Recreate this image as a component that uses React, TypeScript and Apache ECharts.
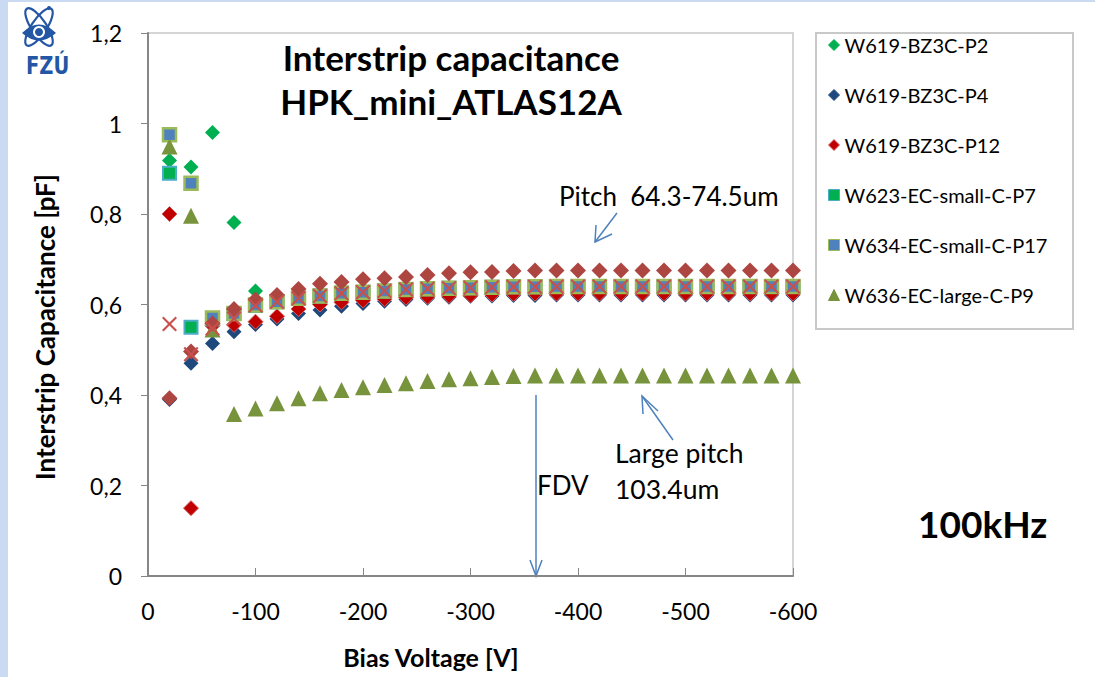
import React, { useEffect, useRef } from 'react';
import * as echarts from 'echarts';

// Bias voltage (V)
const voltages = [
  -20, -40, -60, -80, -100, -120, -140, -160, -180, -200,
  -220, -240, -260, -280, -300, -320, -340, -360, -380, -400,
  -420, -440, -460, -480, -500, -520, -540, -560, -580, -600,
];

// Interstrip capacitance (pF)
const p2 = [
  0.918, 0.904, 0.98, 0.781, 0.63, 0.606, 0.614, 0.619, 0.625, 0.627,
  0.63, 0.633, 0.635, 0.636, 0.637, 0.638, 0.639, 0.639, 0.64, 0.64,
  0.64, 0.64, 0.64, 0.64, 0.64, 0.64, 0.64, 0.64, 0.64, 0.64,
];
const p4 = [
  0.39, 0.47, 0.514, 0.54, 0.556, 0.568, 0.58, 0.588, 0.596, 0.602,
  0.607, 0.611, 0.614, 0.616, 0.618, 0.619, 0.62, 0.62, 0.621, 0.621,
  0.621, 0.621, 0.621, 0.621, 0.621, 0.621, 0.621, 0.621, 0.621, 0.621,
];
const p12 = [
  0.8, 0.15, 0.553, 0.555, 0.562, 0.574, 0.59, 0.6, 0.605, 0.609,
  0.612, 0.615, 0.617, 0.619, 0.62, 0.622, 0.623, 0.624, 0.624, 0.624,
  0.624, 0.624, 0.624, 0.624, 0.624, 0.624, 0.624, 0.624, 0.624, 0.624,
];
const p7 = [
  0.89, 0.55, 0.568, 0.58, 0.598, 0.606, 0.614, 0.619, 0.625, 0.627,
  0.63, 0.633, 0.635, 0.636, 0.637, 0.638, 0.639, 0.639, 0.64, 0.64,
  0.64, 0.64, 0.64, 0.64, 0.64, 0.64, 0.64, 0.64, 0.64, 0.64,
];
const p17 = [
  0.975, 0.868, 0.57, 0.58, 0.599, 0.606, 0.614, 0.619, 0.625, 0.627,
  0.63, 0.633, 0.635, 0.636, 0.637, 0.638, 0.639, 0.639, 0.64, 0.64,
  0.64, 0.64, 0.64, 0.64, 0.64, 0.64, 0.64, 0.64, 0.64, 0.64,
];
const p9 = [
  0.949, 0.796, 0.545, 0.358, 0.37, 0.382, 0.393, 0.404, 0.411, 0.417,
  0.422, 0.426, 0.431, 0.435, 0.437, 0.44, 0.442, 0.443, 0.443, 0.443,
  0.443, 0.443, 0.443, 0.443, 0.443, 0.443, 0.443, 0.443, 0.443, 0.443,
];
// two further series that are plotted but not listed in the legend
const extraDiamond = [
  0.393, 0.496, 0.558, 0.59, 0.611, 0.621, 0.634, 0.646, 0.65, 0.656,
  0.658, 0.661, 0.665, 0.669, 0.671, 0.672, 0.674, 0.675, 0.675, 0.675,
  0.675, 0.675, 0.675, 0.675, 0.675, 0.675, 0.675, 0.675, 0.675, 0.675,
];
const extraCross = [
  0.557, 0.49, 0.547, 0.569, 0.598, 0.606, 0.614, 0.619, 0.625, 0.627,
  0.63, 0.633, 0.635, 0.636, 0.637, 0.638, 0.639, 0.639, 0.64, 0.64,
  0.64, 0.64, 0.64, 0.64, 0.64, 0.64, 0.64, 0.64, 0.64, 0.64,
];

const legendNames = [
  'W619-BZ3C-P2',
  'W619-BZ3C-P4',
  'W619-BZ3C-P12',
  'W623-EC-small-C-P7',
  'W634-EC-small-C-P17',
  'W636-EC-large-C-P9',
];

const yTicks = ['0', '0,2', '0,4', '0,6', '0,8', '1', '1,2'];

const FONT = 'Lato, "Open Sans", sans-serif';
const ARROW = '#4F81BD';
const LOGO = '#2356A4';

const pairs = (ys: number[]) => voltages.map((v, i) => [v, ys[i]]);

const crossPath =
  'path://M0,1.5L1.5,0L7.5,6L13.5,0L15,1.5L9,7.5L15,13.5L13.5,15L7.5,9L1.5,15L0,13.5L6,7.5Z';

export default function App() {
  const ref = useRef<HTMLDivElement>(null);

  useEffect(() => {
    document.body.style.margin = '0';
    const eyeD = 'M22,33 Q39,16 56,33 Q39,48 22,33 Z';
    try {
      echarts.graphic.registerShape('fzuEye', echarts.graphic.extendPath(eyeD, {}) as any);
    } catch (e) {
      /* already registered */
    }
    const chart = echarts.init(ref.current!, null, { renderer: 'svg' });

    const mk = (
      name: string,
      data: number[],
      symbol: string,
      size: number,
      color: string,
      border?: string,
      bw = 0,
    ) => ({
      name,
      type: 'scatter',
      data: pairs(data),
      symbol,
      symbolSize: size,
      itemStyle: { color, borderColor: border || color, borderWidth: bw, opacity: 1 },
      emphasis: { disabled: true },
    });

    const txt = (text: string, x: number, y: number, size: number, bold = false, align = 'left') => ({
      type: 'text',
      x,
      y,
      silent: true,
      style: {
        text,
        fontFamily: FONT,
        fontSize: size,
        fontWeight: bold ? 'bold' : 'normal',
        fill: '#000',
        align,
        verticalAlign: 'middle',
      },
    });

    const option: any = {
      animation: false,
      backgroundColor: '#ffffff',
      textStyle: { fontFamily: FONT },
      title: {
        text: 'Interstrip capacitance\nHPK_mini_ATLAS12A',
        left: 446,
        top: 30,
        textAlign: 'center',
        textStyle: {
          fontFamily: FONT,
          fontSize: 35,
          fontWeight: 'bold',
          color: '#000',
          lineHeight: 44,
        },
      },
      grid: {
        left: 148,
        right: 302,
        top: 33,
        bottom: 101,
        show: true,
        borderColor: '#C8C8C8',
        borderWidth: 1.5,
        backgroundColor: 'transparent',
      },
      legend: {
        data: legendNames.map((n) => ({ name: n, itemStyle: { borderWidth: 1 } })),
        orient: 'vertical',
        left: 828,
        top: 33,
        itemWidth: 11,
        itemHeight: 11,
        itemGap: 26,
        textStyle: { fontFamily: FONT, fontSize: 20, color: '#000', lineHeight: 24 },
        padding: 0,
      },
      xAxis: {
        type: 'value',
        inverse: true,
        min: -600,
        max: 0,
        interval: 100,
        axisLine: { show: true, onZero: false, lineStyle: { color: '#868686', width: 2 } },
        axisTick: { show: true, inside: true, length: 8, lineStyle: { color: '#868686', width: 1 } },
        axisLabel: { fontFamily: FONT, fontSize: 23, color: '#000', margin: 23 },
        splitLine: { show: false },
      },
      yAxis: {
        type: 'value',
        min: 0,
        max: 1.2,
        interval: 0.2,
        axisLine: { show: true, onZero: false, lineStyle: { color: '#868686', width: 2 } },
        axisTick: { show: true, inside: false, length: 7, lineStyle: { color: '#868686', width: 1 } },
        axisLabel: {
          fontFamily: FONT,
          fontSize: 23,
          color: '#000',
          margin: 26,
          formatter: (v: number) => yTicks[Math.round(v / 0.2)],
        },
        splitLine: { show: false },
      },
      series: [
        mk(legendNames[0], p2, 'diamond', 15, '#00B050'),
        mk(legendNames[1], p4, 'diamond', 15, '#1F497D'),
        mk(legendNames[2], p12, 'diamond', 15, '#C00000', '#D06060', 1),
        mk(legendNames[3], p7, 'rect', 13, '#00B050', '#4BACC6', 2),
        mk(legendNames[4], p17, 'rect', 13, '#4F81BD', '#9BBB59', 2.5),
        mk(legendNames[5], p9, 'triangle', 16, '#77933C'),
        mk('series7', extraDiamond, 'diamond', 16, '#AD4540'),
        mk('series8', extraCross, crossPath, 15, '#C8504D'),
      ],
      graphic: [
        // slide frame
        { type: 'rect', shape: { x: 0, y: 0, width: 8, height: 677 }, style: { fill: '#C9DAF2' }, silent: true },
        { type: 'rect', shape: { x: 0, y: 0, width: 1095, height: 2 }, style: { fill: '#C9DAF2' }, silent: true },
        // legend frame
        {
          type: 'rect',
          shape: { x: 816, y: 33, width: 257, height: 296 },
          style: { fill: 'none', stroke: '#C8C8C8', lineWidth: 2 },
          silent: true,
        },
        // axis titles
        {
          ...txt('Interstrip Capacitance [pF]', 45, 327, 26, true, 'center'),
          rotation: Math.PI / 2,
        },
        txt('Bias Voltage [V]', 431, 657, 25, true, 'center'),
        // annotations
        txt('Pitch  64.3-74.5um', 559, 196, 26),
        { type: 'line', shape: { x1: 617, y1: 213, x2: 595, y2: 242 }, style: { stroke: ARROW, lineWidth: 1.5 }, silent: true },
        {
          type: 'polyline',
          shape: { points: [[596, 225], [595, 242], [612, 234]] },
          style: { stroke: ARROW, lineWidth: 1.5, fill: 'none' },
          silent: true,
        },
        { type: 'line', shape: { x1: 536, y1: 395, x2: 536, y2: 576 }, style: { stroke: ARROW, lineWidth: 1.5 }, silent: true },
        {
          type: 'polyline',
          shape: { points: [[530, 560], [536, 576], [542, 560]] },
          style: { stroke: ARROW, lineWidth: 1.5, fill: 'none' },
          silent: true,
        },
        txt('FDV', 537, 485, 26),
        { type: 'line', shape: { x1: 673, y1: 440, x2: 642, y2: 396 }, style: { stroke: ARROW, lineWidth: 1.5 }, silent: true },
        {
          type: 'polyline',
          shape: { points: [[643, 414], [642, 396], [658, 411]] },
          style: { stroke: ARROW, lineWidth: 1.5, fill: 'none' },
          silent: true,
        },
        txt('Large pitch', 615, 453, 26.5),
        txt('103.4um', 615, 489, 26.5),
        txt('100kHz', 918, 523, 37, true),
        // FZU logo
        {
          type: 'group',
          silent: true,
          children: [
            {
              type: 'ellipse',
              shape: { cx: 39, cy: 27, rx: 22, ry: 7.5 },
              rotation: Math.PI / 3.2,
              originX: 39,
              originY: 27,
              style: { fill: 'none', stroke: LOGO, lineWidth: 2.2 },
            },
            {
              type: 'ellipse',
              shape: { cx: 39, cy: 27, rx: 22, ry: 7.5 },
              rotation: -Math.PI / 3.2,
              originX: 39,
              originY: 27,
              style: { fill: 'none', stroke: LOGO, lineWidth: 2.2 },
            },
            { type: 'fzuEye', x: 0, y: 0, style: { fill: LOGO } },
            { type: 'circle', shape: { cx: 39, cy: 32, r: 6 }, style: { fill: '#fff' } },
            { type: 'circle', shape: { cx: 39, cy: 32, r: 4 }, style: { fill: LOGO } },
            { type: 'circle', shape: { cx: 49, cy: 8, r: 2 }, style: { fill: LOGO } },
            {
              type: 'text',
              x: 39,
              y: 65,
              scaleX: 0.78,
              originX: 39,
              originY: 65,
              style: {
                text: 'FZÚ',
                fontFamily: '"DejaVu Sans", sans-serif',
                fontSize: 25,
                fontWeight: 'bold',
                fill: LOGO,
                align: 'center',
                verticalAlign: 'middle',
              },
            },
          ],
        },
      ],
    };

    chart.setOption(option);
    return () => chart.dispose();
  }, []);

  return <div ref={ref} style={{ width: 1095, height: 677 }} />;
}
